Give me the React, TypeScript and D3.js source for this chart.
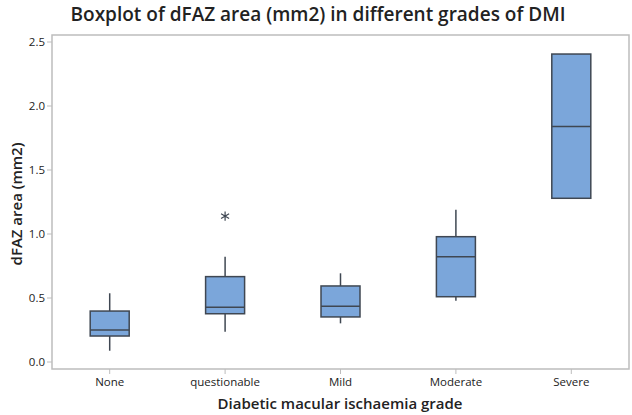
import React from "react";
import * as d3 from "d3";

const categories = ["None", "questionable", "Mild", "Moderate", "Severe"];
const whiskerLow = [0.088, 0.237, 0.302, 0.479, 1.279];
const q1 = [0.203, 0.377, 0.352, 0.51, 1.279];
const median = [0.25, 0.427, 0.435, 0.823, 1.84];
const q3 = [0.398, 0.667, 0.594, 0.979, 2.406];
const whiskerHigh = [0.537, 0.823, 0.693, 1.19, 2.406];
const outliers: [string, number][] = [["questionable", 1.14]];
const yTicks = [0, 0.5, 1.0, 1.5, 2.0, 2.5];

const W = 632, H = 415;
const plot = { left: 52, right: 629, top: 35, bottom: 369 };

export default function App() {
  const x = d3.scaleBand().domain(categories).range([plot.left, plot.right]).paddingInner(0).paddingOuter(0);
  const y = d3.scaleLinear().domain([0, 2.5]).range([362, 42]);
  const boxW = 39;
  const font = "'Open Sans', 'Noto Sans', sans-serif";
  const stroke = "#3f4752";
  const fill = "#7ba6da";
  const sym = d3.symbol().type(d3.symbolAsterisk).size(60)();

  return (
    <svg width={W} height={H} style={{ position: "absolute", left: 0, top: 0, background: "#fff" }}>
      <text x={318} y={21} textAnchor="middle" fontFamily={font} fontWeight={600} fontSize={19} fill="#222">
        Boxplot of dFAZ area (mm2) in different grades of DMI
      </text>
      <rect x={plot.left} y={plot.top} width={plot.right - plot.left} height={plot.bottom - plot.top} fill="none" stroke="#bdbdbd" strokeWidth={1.5} />
      {yTicks.map((t) => (
        <g key={t}>
          <line x1={plot.left - 5} x2={plot.left} y1={y(t)} y2={y(t)} stroke="#bdbdbd" />
          <text x={plot.left - 7} y={y(t)} dy="0.35em" textAnchor="end" fontFamily={font} fontSize={11.5} fill="#222">
            {d3.format(".1f")(t)}
          </text>
        </g>
      ))}
      {categories.map((c) => {
        const cx = x(c)! + x.bandwidth() / 2;
        return (
          <g key={c}>
            <line x1={cx} x2={cx} y1={plot.bottom} y2={plot.bottom + 5} stroke="#bdbdbd" />
            <text x={cx} y={386} textAnchor="middle" fontFamily={font} fontSize={11.5} fill="#222">
              {c}
            </text>
          </g>
        );
      })}
      {categories.map((c, i) => {
        const cx = x(c)! + x.bandwidth() / 2;
        return (
          <g key={"b" + c}>
            <line x1={cx} x2={cx} y1={y(q3[i])} y2={y(whiskerHigh[i])} stroke={stroke} strokeWidth={1.5} />
            <line x1={cx} x2={cx} y1={y(q1[i])} y2={y(whiskerLow[i])} stroke={stroke} strokeWidth={1.5} />
            <rect x={cx - boxW / 2} y={y(q3[i])} width={boxW} height={y(q1[i]) - y(q3[i])} fill={fill} stroke={stroke} strokeWidth={1.5} />
            <line x1={cx - boxW / 2} x2={cx + boxW / 2} y1={y(median[i])} y2={y(median[i])} stroke={stroke} strokeWidth={1.5} />
          </g>
        );
      })}
      {outliers.map(([c, v], i) => (
        <path key={"o" + i} d={sym!} transform={`translate(${x(c)! + x.bandwidth() / 2},${y(v)})`} fill="none" stroke={stroke} strokeWidth={1.2} />
      ))}
      <text transform={`translate(22,${(plot.top + plot.bottom) / 2 + 2}) rotate(-90)`} textAnchor="middle" fontFamily={font} fontWeight={600} fontSize={15} fill="#222">
        dFAZ area (mm2)
      </text>
      <text x={340} y={409} textAnchor="middle" fontFamily={font} fontWeight={600} fontSize={15} fill="#222">
        Diabetic macular ischaemia grade
      </text>
    </svg>
  );
}
